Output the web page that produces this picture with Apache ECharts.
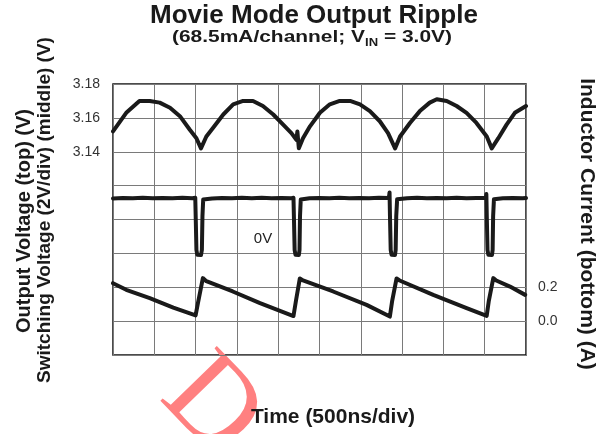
<!DOCTYPE html>
<html><head><meta charset="utf-8">
<script src="https://cdn.jsdelivr.net/npm/echarts@6/dist/echarts.min.js"></script>
<style>html,body{margin:0;padding:0;background:#fff}#c{width:610px;height:434px}</style>
</head><body><div id="c"></div>
<script>
// ---- data (time in ns, 500 ns/div) ----
const voutT = [0, 160, 320, 445, 565, 690, 810, 930, 1010, 1065, 1130, 1210, 1335, 1455, 1575, 1695, 1815, 1940, 2060, 2160, 2220, 2232, 2250, 2300, 2385, 2505, 2625, 2745, 2870, 2990, 3110, 3230, 3330, 3415, 3475, 3595, 3715, 3835, 3920, 4040, 4160, 4280, 4400, 4525, 4585, 4665, 4765, 4865, 5000];
const voutV = [3.152, 3.163, 3.170, 3.170, 3.169, 3.166, 3.161, 3.153, 3.148, 3.142, 3.149, 3.154, 3.162, 3.168, 3.170, 3.170, 3.167, 3.162, 3.156, 3.151, 3.147, 3.152, 3.142, 3.148, 3.155, 3.163, 3.168, 3.170, 3.170, 3.168, 3.164, 3.158, 3.151, 3.142, 3.149, 3.157, 3.164, 3.169, 3.171, 3.170, 3.167, 3.163, 3.157, 3.149, 3.142, 3.148, 3.156, 3.163, 3.167];

const swT = [0, 120, 240, 360, 480, 600, 720, 840, 960, 996, 1002, 1010, 1020, 1065, 1076, 1083, 1092, 1200, 1320, 1440, 1560, 1680, 1800, 1920, 2040, 2160, 2185, 2191, 2199, 2209, 2250, 2258, 2264, 2273, 2380, 2500, 2620, 2740, 2860, 2980, 3100, 3220, 3340, 3348, 3354, 3362, 3372, 3414, 3422, 3429, 3440, 3560, 3680, 3800, 3920, 4040, 4160, 4280, 4400, 4515, 4520, 4526, 4534, 4544, 4588, 4596, 4602, 4612, 4720, 4840, 4960, 5000];
const swV = [3.24, 3.27, 3.25, 3.28, 3.25, 3.27, 3.26, 3.28, 3.26, 3.28, 2.0, 0.2, -0.08, -0.1, 0.2, 2.2, 3.18, 3.24, 3.27, 3.25, 3.28, 3.26, 3.28, 3.25, 3.27, 3.26, 3.28, 2.0, 0.2, -0.08, -0.1, 0.2, 2.2, 3.18, 3.25, 3.27, 3.25, 3.28, 3.26, 3.27, 3.25, 3.28, 3.27, 3.6, 2.0, 0.2, -0.08, -0.1, 0.2, 2.2, 3.2, 3.26, 3.28, 3.25, 3.27, 3.26, 3.28, 3.25, 3.27, 3.28, 3.5, 2.0, 0.2, -0.08, -0.1, 0.2, 2.2, 3.2, 3.26, 3.27, 3.25, 3.27];

const curT = [0, 160, 445, 730, 1000, 1030, 1088, 1130, 1450, 1780, 2185, 2215, 2262, 2300, 2665, 3070, 3352, 3380, 3433, 3470, 3877, 4281, 4524, 4550, 4604, 4640, 4806, 4990];
const curA = [0.224, 0.185, 0.136, 0.080, 0.034, 0.11, 0.254, 0.236, 0.175, 0.106, 0.030, 0.12, 0.252, 0.240, 0.175, 0.096, 0.027, 0.12, 0.252, 0.240, 0.155, 0.077, 0.031, 0.12, 0.254, 0.240, 0.204, 0.155];

const voutTicks = [3.14, 3.16, 3.18];
const curTicks = [0.0, 0.2];

const FONT = 'Liberation Sans, Arial, Helvetica, sans-serif';
const pair = (t, v) => t.map((x, i) => [x, v[i]]);
const traceStyle = { color: '#1a1a1a', width: 4, join: 'round', cap: 'round' };

// subtitle pieces (V with subscript IN)
const subA = '(68.5mA/channel; V', subB = 'IN', subC = ' = 3.0V)';
const mctx = document.createElement('canvas').getContext('2d');
mctx.font = 'bold 16px "Liberation Sans", Arial, sans-serif';
const wA = mctx.measureText(subA).width, wC = mctx.measureText(subC).width;
mctx.font = 'bold 10px "Liberation Sans", Arial, sans-serif';
const wB = mctx.measureText(subB).width;
const subScale = 280 / (wA + wB + wC);

const chart = echarts.init(document.getElementById('c'), null, { renderer: 'canvas' });
chart.setOption({
  animation: false,
  grid: { left: 113, top: 84, width: 413, height: 271, show: true, borderColor: '#111', borderWidth: 1.5, backgroundColor: 'transparent', containLabel: false },
  xAxis: {
    type: 'value', min: 0, max: 5000, interval: 500,
    axisLine: { show: false }, axisTick: { show: false }, axisLabel: { show: false },
    splitLine: { show: true, lineStyle: { color: '#7a7a7a', width: 1 } }
  },
  yAxis: [
    {
      type: 'value', min: 3.02, max: 3.18, interval: 0.02, position: 'left',
      axisLine: { show: false }, axisTick: { show: false },
      axisLabel: { margin: 13, fontSize: 14, color: '#333', fontFamily: FONT,
        formatter: v => voutTicks.some(t => Math.abs(t - v) < 1e-6) ? (+v).toFixed(2) : '' },
      splitLine: { show: true, lineStyle: { color: '#7a7a7a', width: 1 } }
    },
    { type: 'value', min: -6, max: 10, show: false },
    {
      type: 'value', min: -0.2, max: 1.4, interval: 0.2, position: 'right',
      axisLine: { show: false }, axisTick: { show: false }, splitLine: { show: false },
      axisLabel: { margin: 12, fontSize: 14, color: '#333', fontFamily: FONT,
        formatter: v => curTicks.some(t => Math.abs(t - v) < 1e-6) ? (+v).toFixed(1) : '' }
    }
  ],
  series: [
    { type: 'line', yAxisIndex: 0, data: pair(voutT, voutV), showSymbol: false, symbol: 'none', lineStyle: traceStyle, silent: true, z: 5 },
    { type: 'line', yAxisIndex: 1, data: pair(swT, swV), showSymbol: false, symbol: 'none', lineStyle: traceStyle, silent: true, z: 5 },
    { type: 'line', yAxisIndex: 2, data: pair(curT, curA), showSymbol: false, symbol: 'none', lineStyle: traceStyle, silent: true, z: 5 }
  ],
  graphic: [
    { type: 'group', x: 210, y: 352, rotation: -0.8, z: -10, silent: true,
      children: [{ type: 'text', x: -3, y: -22, style: { text: 'D', fill: '#ff8080', fontSize: 120, fontFamily: 'Liberation Serif, Times New Roman, serif', align: 'left', verticalAlign: 'top' } }] },
    { type: 'text', x: 314, y: 16, style: { text: 'Movie Mode Output Ripple', fill: '#1a1a1a', fontSize: 26, fontWeight: 'bold', fontFamily: FONT, align: 'center', verticalAlign: 'middle' } },
    { type: 'group', x: 172, y: 38, scaleX: subScale, silent: true,
      children: [
        { type: 'text', x: 0, y: 0, style: { text: subA, fill: '#1a1a1a', fontSize: 16, fontWeight: 'bold', fontFamily: FONT, align: 'left', verticalAlign: 'middle' } },
        { type: 'text', x: wA, y: 5, style: { text: subB, fill: '#1a1a1a', fontSize: 10, fontWeight: 'bold', fontFamily: FONT, align: 'left', verticalAlign: 'middle' } },
        { type: 'text', x: wA + wB, y: 0, style: { text: subC, fill: '#1a1a1a', fontSize: 16, fontWeight: 'bold', fontFamily: FONT, align: 'left', verticalAlign: 'middle' } }
      ] },
    { type: 'text', x: 24, y: 221, rotation: Math.PI / 2, style: { text: 'Output Voltage (top) (V)', fill: '#1a1a1a', fontSize: 20, fontWeight: 'bold', fontFamily: FONT, align: 'center', verticalAlign: 'middle' } },
    { type: 'text', x: 45, y: 210, rotation: Math.PI / 2, style: { text: 'Switching Voltage (2V/div) (middle) (V)', fill: '#1a1a1a', fontSize: 19, fontWeight: 'bold', fontFamily: FONT, align: 'center', verticalAlign: 'middle' } },
    { type: 'text', x: 587, y: 224, rotation: -Math.PI / 2, style: { text: 'Inductor Current (bottom) (A)', fill: '#1a1a1a', fontSize: 21, fontWeight: 'bold', fontFamily: FONT, align: 'center', verticalAlign: 'middle' } },
    { type: 'text', x: 333, y: 417, style: { text: 'Time (500ns/div)', fill: '#1a1a1a', fontSize: 21, fontWeight: 'bold', fontFamily: FONT, align: 'center', verticalAlign: 'middle' } },
    { type: 'text', x: 263, y: 239, z: 10, style: { text: '0V', fill: '#222', fontSize: 15, fontFamily: FONT, align: 'center', verticalAlign: 'middle' } }
  ]
});
</script>
</body></html>
